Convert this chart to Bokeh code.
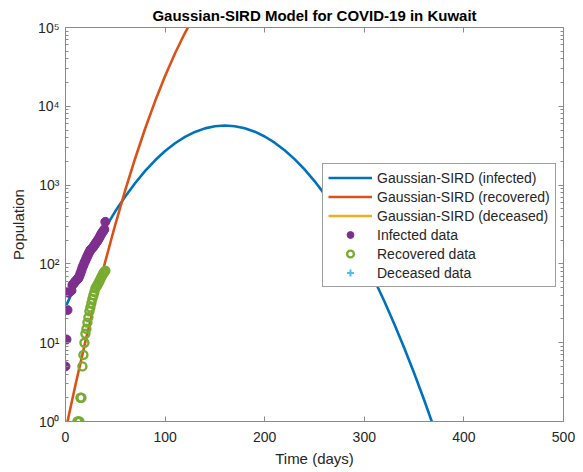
import math
from bokeh.plotting import figure
from bokeh.models import (Range1d, LogAxis, LinearAxis, Legend, LegendItem,
                          CustomJSTickFormatter, FixedTicker, ColumnDataSource)
from bokeh.embed import file_html
from bokeh.resources import INLINE

# ---------------- data ----------------
infected_days = list(range(0, 41))
infected_cases = [5, 11, 26, 43, 45, 45, 46, 54, 56, 58,
                  60, 62, 64, 66, 70, 76, 82, 90, 96, 104,
                  110, 118, 126, 134, 142, 150, 155, 160, 165, 172,
                  180, 188, 195, 205, 215, 228, 240, 252, 262, 275, 342]

recovered_days = list(range(12, 41))
recovered_cases = [1, 1, 1, 2, 2, 5, 7, 10, 13, 15,
                   18, 21, 25, 28, 32, 36, 40, 44, 49, 51,
                   54, 57, 60, 64, 68, 72, 76, 79, 82]

# no deaths over the data period (zeros cannot be shown on a log axis)
deceased_days = [0, 10, 20, 30, 40]
deceased_cases = [0, 0, 0, 0, 0]

model_i_days = [0, 10, 20, 30, 40, 50, 60, 70, 80, 90,
                100, 110, 120, 130, 140, 150, 160, 170, 180, 190,
                200, 210, 220, 230, 240, 250, 260, 270, 280, 290,
                300, 310, 320, 330, 340, 350, 360, 370]
model_infected = [28.3, 53.8, 98.2, 171.8, 288, 464.5, 718, 1064, 1514, 2065,
                  2704, 3396, 4093, 4732, 5248, 5585, 5702, 5589, 5260, 4762,
                  4140, 3455, 2773, 2136, 1582, 1125, 769, 505, 318, 193,
                  112, 62.9, 33.8, 17.4, 8.65, 4.12, 1.89, 0.83]

model_r_days = [0, 2, 10, 20, 30, 40, 50, 60, 70, 80, 90, 100, 110, 120, 130]
model_recovered = [0.76, 1.0, 2.91, 10.4, 34.7, 108, 316, 861, 2193, 5224,
                   11640, 24210, 47100, 85700, 145500]

# deceased model stays at zero (never visible on the log axis)
model_d_days = [0, 100, 200, 300, 400, 500]
model_deceased = [0, 0, 0, 0, 0, 0]

x_ticks = [0, 100, 200, 300, 400, 500]
y_ticks = [1, 10, 100, 1000, 10000, 100000]


def log_safe(vals):
    return [v if v > 0 else math.nan for v in vals]


# ---------------- styling ----------------
FONT = "Liberation Sans"
TXT = "#262626"
AX = "#8a8a8a"

p = figure(width=575, height=469, x_axis_type="linear", y_axis_type="log",
           x_range=Range1d(0, 500), y_range=Range1d(1, 1e5),
           output_backend="svg", toolbar_location=None,
           min_border_left=65, min_border_right=12, min_border_top=27,
           min_border_bottom=48)

p.title.text = "Gaussian-SIRD Model for COVID-19 in Kuwait"
p.title.align = "center"
p.title.text_font = FONT
p.title.text_font_size = "15px"
p.title.text_font_style = "bold"
p.title.text_color = "#000000"
p.title.standoff = 8

p.grid.visible = False
p.outline_line_color = AX
p.background_fill_color = "white"
p.border_fill_color = "white"

minor_y = [m * d for d in y_ticks[:-1] for m in range(2, 10)]
sup = CustomJSTickFormatter(code="""
const s = {"0":"\u2070","1":"\u00b9","2":"\u00b2","3":"\u00b3","4":"\u2074","5":"\u2075","6":"\u2076","7":"\u2077","8":"\u2078","9":"\u2079","-":"\u207b"};
const e = Math.round(Math.log10(tick));
return "10" + String(e).split("").map(c => s[c]).join("");
""")
blank = CustomJSTickFormatter(code="return '';")


def style_axis(ax):
    ax.axis_line_color = AX
    ax.major_tick_line_color = AX
    ax.minor_tick_line_color = AX
    ax.major_tick_in = 5
    ax.major_tick_out = 0
    ax.minor_tick_in = 3
    ax.minor_tick_out = 0
    ax.major_label_text_font = FONT
    ax.major_label_text_color = TXT
    ax.major_label_text_font_size = "14px"
    ax.axis_label_text_font = FONT
    ax.axis_label_text_color = TXT
    ax.axis_label_text_font_style = "normal"
    ax.axis_label_text_font_size = "15px"


xa = p.xaxis[0]
xa.ticker = FixedTicker(ticks=x_ticks)
xa.axis_label = "Time (days)"
style_axis(xa)
xa.major_label_standoff = 10
xa.axis_label_standoff = 5

ya = p.yaxis[0]
ya.ticker = FixedTicker(ticks=y_ticks, minor_ticks=minor_y)
ya.formatter = sup
ya.axis_label = "Population"
style_axis(ya)
ya.major_label_standoff = 6
ya.axis_label_standoff = 8

top = LinearAxis(ticker=FixedTicker(ticks=x_ticks), formatter=blank)
style_axis(top)
top.major_label_standoff = 0
p.add_layout(top, "above")

right = LogAxis(ticker=FixedTicker(ticks=y_ticks, minor_ticks=minor_y), formatter=blank)
style_axis(right)
right.major_label_standoff = 0
p.add_layout(right, "right")

# ---------------- glyphs ----------------
C_I = "#0072BD"
C_R = "#D95319"
C_D = "#EDB120"

l_i = p.line(model_i_days, model_infected, line_color=C_I, line_width=2.6)
l_r = p.line(model_r_days, model_recovered, line_color=C_R, line_width=2.6)
l_d = p.line(x="x", y="y",
             source=ColumnDataSource(dict(x=model_d_days, y=log_safe(model_deceased))),
             line_color=C_D, line_width=2.6)

s_i = p.scatter(infected_days, infected_cases, marker="circle", size=9,
                fill_color="#7E2F8E", line_color="#7E2F8E", line_width=1)
s_r = p.scatter(recovered_days, recovered_cases, marker="circle", size=8,
                fill_color=None, line_color="#77AC30", line_width=2.4)
s_d = p.scatter(x="x", y="y",
                source=ColumnDataSource(dict(x=deceased_days, y=log_safe(deceased_cases))),
                marker="cross", size=9, line_color="#4DBEEE", line_width=2)

legend = Legend(items=[
    LegendItem(label="Gaussian-SIRD (infected)", renderers=[l_i]),
    LegendItem(label="Gaussian-SIRD (recovered)", renderers=[l_r]),
    LegendItem(label="Gaussian-SIRD (deceased)", renderers=[l_d]),
    LegendItem(label="Infected data", renderers=[s_i]),
    LegendItem(label="Recovered data", renderers=[s_r]),
    LegendItem(label="Deceased data", renderers=[s_d]),
], location=(257, 134))
legend.label_text_font = FONT
legend.label_text_font_size = "14px"
legend.label_text_color = TXT
legend.label_height = 17
legend.glyph_height = 17
legend.glyph_width = 44
legend.label_standoff = 5
legend.spacing = 2
legend.padding = 5
legend.margin = 0
legend.border_line_color = "#404040"
legend.border_line_width = 1
legend.background_fill_color = "white"
legend.background_fill_alpha = 1.0
p.add_layout(legend, "center")

open("out.html", "w").write(file_html(p, INLINE))
